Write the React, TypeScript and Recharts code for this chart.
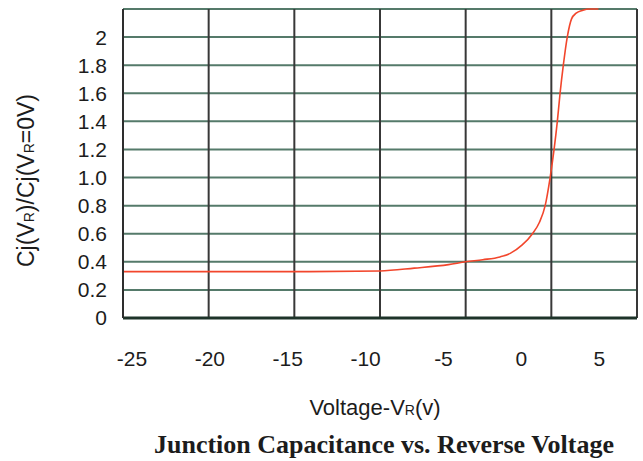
import React from 'react'
import { LineChart, Line, XAxis, YAxis, CartesianGrid, Label } from 'recharts'

// values
const voltage = [-25, -20, -15, -10, -8, -6, -5, -4, -3, -2.4, -1.7, -1.1, -0.7, -0.36, -0.07, 0.16, 0.35, 0.51, 0.7, 0.93, 1.18, 1.45, 1.8, 2.3, 2.75]
const capRatio = [0.33, 0.33, 0.33, 0.335, 0.355, 0.38, 0.4, 0.415, 0.435, 0.46, 0.52, 0.6, 0.68, 0.8, 1.0, 1.2, 1.4, 1.6, 1.8, 2.0, 2.13, 2.17, 2.19, 2.2, 2.2]

const xTicks = [-25, -20, -15, -10, -5, 0, 5]
const yTicks = [0, 0.2, 0.4, 0.6, 0.8, 1.0, 1.2, 1.4, 1.6, 1.8, 2.0, 2.2]
const yTickLabels = ['0', '0.2', '0.4', '0.6', '0.8', '1.0', '1.2', '1.4', '1.6', '1.8', '2', '']

const data = voltage.map((v, i) => ({ v, c: capRatio[i] }))

const SANS = 'Arial, "Liberation Sans", sans-serif'
const SERIF = '"Times New Roman", "Liberation Serif", serif'
const INK = '#1c1c1c'
const PLOT_LEFT = 123

// the original's tick labels sit a little inside the gridlines
function XTick(props: any) {
  const { x, y, payload } = props
  const lx = PLOT_LEFT + 9 + (x - PLOT_LEFT) * 0.909
  return (
    <text x={lx} y={y} dy="0.71em" textAnchor="middle" fontSize={21} fill={INK} fontFamily={SANS}>
      {payload.value}
    </text>
  )
}

function YTitle(props: any) {
  const { x, y, height } = props.viewBox
  const cx = x + 34
  const cy = y + height / 2 + 17
  return (
    <text x={cx} y={cy} transform={`rotate(-90 ${cx} ${cy})`} textAnchor="middle" fontSize={23} fill={INK} fontFamily={SANS}>
      Cj(V<tspan fontSize={14}>R</tspan>)/Cj(V<tspan fontSize={14}>R</tspan>=0V)
    </text>
  )
}

function XTitles(props: any) {
  const { x, y, width } = props.viewBox
  const cx = x + width / 2
  return (
    <g>
      <text x={cx - 5} y={y + 97} textAnchor="middle" fontSize={22} fill={INK} fontFamily={SANS}>
        Voltage-V<tspan fontSize={14}>R</tspan>(v)
      </text>
      <text x={cx + 4} y={y + 135} textAnchor="middle" fontSize={26} fontWeight="bold" fill={INK} fontFamily={SERIF}>
        Junction Capacitance vs. Reverse Voltage
      </text>
    </g>
  )
}

export default function App() {
  return (
    <div style={{ position: 'absolute', left: 0, top: 0, width: 643, height: 461, background: '#fff' }}>
      <LineChart width={643} height={461} data={data} margin={{ top: 9, right: 6, left: 0, bottom: 83 }}>
        <CartesianGrid vertical={false} stroke="#557a6a" strokeWidth={2} />
        <CartesianGrid horizontal={false} stroke="#383838" strokeWidth={2} />
        <XAxis
          dataKey="v"
          type="number"
          domain={[-25, 5]}
          ticks={xTicks}
          height={60}
          tickLine={false}
          tickSize={0}
          tickMargin={33}
          axisLine={{ stroke: '#1d3329', strokeWidth: 3 }}
          tick={<XTick />}
          interval={0}
        >
          <Label content={XTitles} />
        </XAxis>
        <YAxis
          type="number"
          domain={[0, 2.2]}
          ticks={yTicks}
          width={PLOT_LEFT}
          tickLine={false}
          tickSize={0}
          tickMargin={16}
          axisLine={{ stroke: '#2e2e2e', strokeWidth: 2 }}
          tick={{ fill: INK, fontSize: 21, fontFamily: SANS }}
          tickFormatter={(_v: number, i: number) => yTickLabels[i]}
          interval={0}
        >
          <Label content={YTitle} />
        </YAxis>
        <Line type="monotone" dataKey="c" stroke="#f2462c" strokeWidth={1.6} dot={false} isAnimationActive={false} />
      </LineChart>
    </div>
  )
}
